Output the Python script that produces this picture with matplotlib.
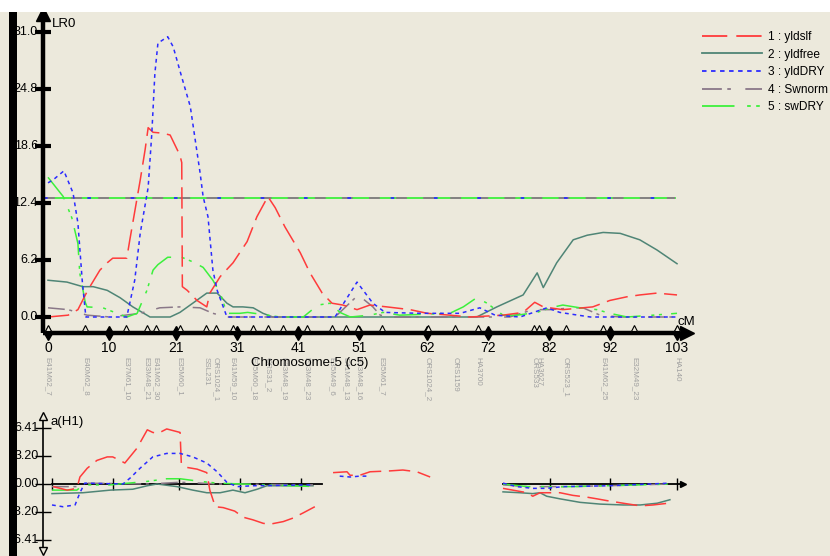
import numpy as np
import matplotlib
matplotlib.use("Agg")
import matplotlib.pyplot as plt
from matplotlib.patches import Rectangle
from matplotlib.lines import Line2D

plt.rcParams['font.family'] = ['Liberation Sans', 'DejaVu Sans']

nan = np.nan

# ---- LR profile (upper panel) ----
yldslf_cm = [0, 3.3, 4.9, 6.5, 8.5, 9.7, 10.6, 12.9, 13.4, 15.1, 15.9, 16.4, 17.2, 18.8, 20.0, 21.6, 21.9, 22.0,
             22.8, 24.4, 26.0, 26.5, 28.2, 30.3, 32.6, 34.2, 36.0, 37.2, 38.8, 41.3, 42.9, 44.9, 46.5, 48.3, 50.6,
             52.7, 55.5, 59.3, 62.1, 65.8, 69.1, 74.5, 77.8, 79.7, 81.1, 84.3, 89.2, 92.0, 94.8, 96.9, 99.7, 103]
yldslf_lr = [0.0, 0.2, 0.8, 2.9, 5.1, 5.9, 6.4, 6.4, 8.4, 14.9, 18.2, 20.6, 20.1, 20.0, 19.8, 17.6, 16.8, 3.3,
             2.9, 1.8, 1.1, 2.6, 4.4, 5.9, 8.2, 10.9, 13.1, 11.9, 9.8, 7.0, 4.8, 2.6, 1.5, 1.3, 0.8,
             1.3, 1.1, 0.8, 0.4, 0.2, 0.0, 0.2, 0.5, 1.6, 1.1, 0.8, 1.1, 1.8, 2.2, 2.4, 2.6, 2.4]

yldfree_cm = [0, 3.1, 5.7, 7.4, 9.7, 11.8, 13.9, 16.2, 16.7, 20.0, 21.6, 23.7, 26.0, 27.7, 29.3, 30.3, 31.9, 33.6,
              35.2, 36.8, 70.2, 73.5, 77.8, 80.1, 81.1, 83.3, 86.0, 88.3, 90.9, 93.7, 96.9, 99.7, 103]
yldfree_lr = [4.0, 3.8, 3.3, 3.3, 2.9, 2.1, 1.1, 0.2, 0.0, 0.0, 0.5, 1.5, 2.6, 2.6, 1.5, 1.1, 1.1, 1.0,
              0.4, 0.0, 0.0, 1.1, 2.4, 4.8, 3.2, 5.9, 8.4, 8.9, 9.2, 9.1, 8.4, 7.3, 5.8]

yldDRY_cm = [0, 0.8, 2.6, 4.1, 4.9, 5.6, 6.2, 12.9, 14.2, 15.1, 16.4, 17.0, 17.5, 18.0, 19.6, 20.5, 21.9, 23.3,
             24.1, 24.9, 25.4, 26.2, 27.0, 27.7, 28.7, 29.3, 47.0, 50.6, 53.2, 55.2, 60.9, 67.5, 70.7, 73.2,
             77.3, 81.7, 83.8, 88.8, 103]
yldDRY_lr = [14.6, 14.9, 15.9, 13.5, 10.2, 4.0, 0.0, 0.0, 4.0, 9.1, 14.1, 20.0, 26.5, 29.8, 30.5, 29.4, 26.1, 22.9,
             19.3, 15.7, 13.1, 10.9, 5.1, 2.9, 1.1, 0.0, 0.0, 3.8, 1.5, 0.5, 0.4, 0.4, 1.0, 0.2,
             0.0, 1.0, 0.5, 0.0, 0.0]

swnorm_cm = [0, 3.3, 6.4, 10.2, 15.1, 18.3, 21.6, 24.9, 27.0, 29.3, 47.0, 50.8, 53.2, 54.4, 56.0, 75.6, 79.4,
             82.2, 86.0, 87.6, 90.4, 93.7, 103]
swnorm_lr = [1.0, 0.8, 0.2, 0.0, 0.4, 1.0, 1.1, 1.0, 0.4, 0.0, 0.0, 2.4, 1.1, 0.2, 0.0, 0.0, 0.8,
             0.8, 1.0, 1.0, 0.2, 0.0, 0.0]

swDRY_cm = [0, 2.5, 3.9, 4.9, 5.2, 6.1, 6.4, 9.0, 11.3, 12.9, 14.6, 16.2, 17.2, 18.0, 19.6, 21.9, 23.7, 25.4,
            27.0, 28.2, 29.3, 31.4, 32.7, 35.9, 38.0, 41.8, 44.2, 46.2, 47.8, 49.5, 52.7, 54.9, 57.6, 65.8,
            68.0, 70.2, 71.9, 74.5, 76.8, 80.1, 82.2, 84.3, 87.1, 89.9, 92.0, 94.8, 99.1, 103]
swDRY_lr = [15.2, 13.1, 10.8, 8.0, 4.8, 1.6, 1.1, 1.0, 0.4, 0.0, 0.4, 2.9, 5.1, 5.7, 6.5, 6.5, 6.0, 5.4,
            4.0, 2.6, 0.4, 0.4, 0.5, 0.2, 0.0, 0.0, 1.3, 1.5, 0.5, 0.0, 0.2, 0.5, 0.2, 0.4,
            1.1, 2.1, 1.5, 0.2, 0.2, 0.5, 1.0, 1.3, 1.0, 0.8, 0.4, 0.0, 0.2, 0.4]

threshold = 12.9

# ---- additive effect a(H1) (lower panel), nan = gap ----
a_yldslf_cm = [0.2, 2.5, 4.1, 4.6, 5.8, 7.4, 9.1, 10.0, 11.2, 12.0, 14.0, 15.7, 16.6, 17.5, 18.9, 21.1, 21.3, 22.2,
               23.9, 25.5, 26.0, 26.9, 28.2, 30.1, 31.5, 33.1, 34.8, 35.9, 38.1, 39.7, 41.4, 43.3, nan,
               46.3, 48.6, 49.1, 50.7, 52.4, 55.7, 57.8, 60.1, 62.3, nan,
               74.3, 75.9, 78.3, 79.2, 80.4, 83.7, 85.8, 88.1, 89.8, 91.4, 94.1, 96.9, 99.0, 101.5]
a_yldslf = [-0.3, -0.7, -0.5, 0.8, 1.8, 2.7, 3.1, 3.1, 2.7, 2.4, 4.1, 6.2, 5.9, 5.8, 6.3, 5.9, 2.4, 1.9,
            1.7, 1.3, -0.7, -2.6, -2.7, -3.1, -3.8, -4.1, -4.5, -4.6, -4.3, -3.9, -3.3, -2.6, nan,
            1.3, 1.4, 1.0, 1.0, 1.4, 1.5, 1.6, 1.4, 0.8, nan,
            -0.5, -0.7, -1.0, -1.4, -1.0, -1.0, -1.3, -1.5, -1.7, -1.9, -2.2, -2.5, -2.4, -2.2]

a_yldfree_cm = [0, 5.1, 9.6, 13.3, 15.7, 17.3, 20.6, 23.2, 25.5, 27.7, 29.8, 31.8, 33.8, 35.4, 43.0, nan,
                74.3, 77.1, 79.2, 80.4, 81.5, 83.7, 87.0, 90.3, 94.1, 96.9, 99.7, 101.8]
a_yldfree = [-1.1, -1.0, -0.7, -0.6, -0.2, 0.0, -0.3, -0.7, -1.0, -1.0, -0.7, -1.0, -0.6, -0.2, -0.2, nan,
             -0.9, -1.0, -1.1, -1.0, -1.4, -1.7, -2.1, -2.3, -2.4, -2.4, -2.2, -1.8]

a_yldDRY_cm = [0, 1.8, 3.8, 4.6, 5.4, 11.7, 12.9, 14.5, 16.6, 18.9, 21.1, 23.2, 25.5, 27.2, 28.8, 30.5, 33.1, 43.0,
               nan, 47.4, 49.1, 50.7, 52.4, nan, 74.3, 76.6, 79.2, 81.5, 84.2, 91.9, 101.8]
a_yldDRY = [-2.4, -2.6, -2.4, -1.0, 0.1, 0.0, 0.7, 1.8, 3.1, 3.5, 3.5, 3.1, 2.4, 1.4, 0.2, -0.3, -0.2, -0.1,
            nan, 0.9, 0.8, 0.9, 0.9, nan, 0.1, -0.3, -0.5, -0.5, -0.3, -0.2, 0.1]

a_swnorm_cm = [0, 4.1, 5.1, 16.1, 21.1, 27.7, 43.0, nan, 74.3, 78.3, 84.8, 91.4, 101.8]
a_swnorm = [-0.3, -0.3, 0.1, 0.0, 0.2, 0.0, -0.1, nan, -0.1, -0.3, -0.3, -0.2, 0.0]

a_swDRY_cm = [0, 4.1, 5.1, 9.6, 15.7, 18.9, 21.1, 24.4, 27.2, 35.4, 43.7, nan, 74.3, 78.3, 85.8, 91.4, 96.9, 101.8]
a_swDRY = [-0.7, -0.7, -0.1, -0.1, 0.3, 0.6, 0.6, 0.3, 0.1, -0.1, -0.3, nan, 0.0, -0.3, -0.3, -0.2, -0.1, 0.0]

# ---- chromosome ----
major_ticks = [0, 10, 21, 31, 41, 51, 62, 72, 82, 92, 103]
lower_ticks = [0, 10, 21, 31, 41, 82, 92, 103]
marker_pos = [0, 6.1, 12.8, 16.2, 17.7, 21.6, 25.9, 27.5, 30.3, 33.6, 36.0, 38.5, 42.4, 46.5, 48.8, 50.8,
              54.7, 62.2, 66.6, 70.4, 79.6, 80.4, 84.8, 90.9, 96.0, 103]
marker_names = ["E41M62_7", "E40M62_8", "E37M61_10", "E33M48_21", "E41M62_30", "E35M60_1", "SSL231",
                "ORS1024_1", "E41M59_10", "E35M60_18", "ORS31_2", "E33M48_19", "E33M48_23", "E35M49_6",
                "E41M48_13", "E33M48_16", "E35M61_7", "ORS1024_2", "ORS1159", "HA3700", "ORS533", "HA3627",
                "ORS523_1", "E41M62_25", "E32M49_23", "HA140"]
lr_ticks = [0.0, 6.2, 12.4, 18.6, 24.8, 31.0]
a_ticks = [6.41, 3.20, 0.00, -3.20, -6.41]
a_ticklabels = ["6.41", "3.20", "0.00", "-3.20", "-6.41"]

names = ["1 : yldslf", "2 : yldfree", "3 : yldDRY", "4 : Swnorm", "5 : swDRY"]
colors = ["#ff3b3b", "#4f8576", "#2b2bff", "#8a7888", "#3cf03c"]
dashes = [(14, 5), None, (2.5, 2.5), (11, 3, 2, 8), (18, 7, 2, 3, 2, 6)]

bg = "#ece9dc"
W, H = 830, 556
fig = plt.figure(figsize=(8.3, 5.56), dpi=100, facecolor=bg)

# upper axes spans pixel rows 0..400, lower 400..556
ax = fig.add_axes([0, 156 / H, 1, 400 / H])
axl = fig.add_axes([0, 0, 1, 156 / H])
for a in (ax, axl):
    a.set_facecolor("none")
    a.set_axis_off()

# pixel -> data scale (upper): cM = (x-48)/6.107, LR = (317-y)/9.19
ax.set_xlim((0 - 48) / 6.107, (830 - 48) / 6.107)
ax.set_ylim((317 - 400) / 9.19, (317 - 0) / 9.19)
# lower: cM = (x-52)/6.07, a = (484-y)/8.74
axl.set_xlim((0 - 52) / 6.07, (830 - 52) / 6.07)
axl.set_ylim((484 - 556) / 8.74, (484 - 400) / 8.74)


def style(line, i):
    if dashes[i] is not None:
        line.set_dashes(dashes[i])


# threshold line (all traits overlap)
ax.plot([-0.6, 102.7], [threshold, threshold], color=colors[4], lw=1.3, zorder=2)
ax.plot([-0.6, 102.7], [threshold, threshold], color=colors[3], lw=1.3, dashes=(6, 9), zorder=2)
ax.plot([-0.6, 102.7], [threshold, threshold], color=colors[2], lw=1.3, dashes=(2, 22), zorder=2)

upper = [(yldslf_cm, yldslf_lr), (yldfree_cm, yldfree_lr), (yldDRY_cm, yldDRY_lr),
         (swnorm_cm, swnorm_lr), (swDRY_cm, swDRY_lr)]
order = [1, 3, 4, 0, 2]
for i in order:
    xs, ys = upper[i]
    ln, = ax.plot(xs, ys, color=colors[i], lw=1.1, zorder=3)
    style(ln, i)

# upper axes
ybase = -1.74
ax.plot([-0.8, 104.5], [ybase, ybase], color="black", lw=3.2, solid_capstyle="butt", zorder=4)
ax.plot([104.6], [ybase], marker=">", color="black", ms=10, zorder=4)
ax.plot([-0.8, -0.8], [ybase, 32.6], color="black", lw=3.2, solid_capstyle="butt", zorder=4)
ax.plot([-0.8], [33.0], marker="^", color="black", ms=10, zorder=4)
ax.plot(major_ticks, [ybase] * len(major_ticks), ls="none", marker="d", color="black", ms=7, zorder=5)
ax.plot([-0.8] * len(lr_ticks), lr_ticks, ls="none", marker="_", color="black", ms=11, mew=3, zorder=5)
ax.plot(marker_pos, [ybase + 0.55] * len(marker_pos), ls="none", marker="^", mfc=bg, mec="black",
        ms=5, mew=0.8, zorder=5)
for v in lr_ticks:
    ax.text(-1.65, v, f"{v:.1f}", ha="right", va="center", fontsize=9)
for v in major_ticks:
    ax.text(v, -3.4, str(v), ha="center", va="center", fontsize=10)
for p, n in zip(marker_pos, marker_names):
    ax.text(p, -4.4, n, ha="center", va="top", rotation=-90, fontsize=5.8, color="#a0a0a0")
ax.text(0.6, 31.9, "LR0", ha="left", va="center", fontsize=9.5)
ax.text(104.5, -0.5, "cM", ha="center", va="center", fontsize=9.5)
ax.text(42.9, -5.05, "Chromosome-5 (c5)", ha="center", va="center", fontsize=9.5)

# legend
handles = []
for i in range(5):
    h = Line2D([], [], color=colors[i], lw=1.3)
    style(h, i)
    handles.append(h)
ax.legend(handles, names, loc="upper left", bbox_to_anchor=(696 / W, 1 - 25 / 400), frameon=False,
          fontsize=8.6, handlelength=5.0, handletextpad=0.5, labelspacing=0.47, borderpad=0)

# lower panel
lower = [(a_yldslf_cm, a_yldslf), (a_yldfree_cm, a_yldfree), (a_yldDRY_cm, a_yldDRY),
         (a_swnorm_cm, a_swnorm), (a_swDRY_cm, a_swDRY)]
axl.plot([0, 44.5], [0, 0], color="black", lw=1.3, zorder=2)
axl.plot([74.3, 104.0], [0, 0], color="black", lw=1.3, zorder=2)
axl.plot([104.0], [0], marker=">", color="black", ms=5, zorder=2)
axl.plot(lower_ticks, [0] * len(lower_ticks), ls="none", marker="|", color="black", ms=8, mew=1, zorder=2)
for i in order:
    xs, ys = lower[i]
    ln, = axl.plot(xs, ys, color=colors[i], lw=1.1, zorder=3)
    style(ln, i)

axl.plot([-1.48, -1.48], [-7.6, 7.7], color="black", lw=1.2, zorder=4)
axl.plot([-1.48], [7.8], marker="^", mfc=bg, mec="black", ms=6, mew=1, zorder=4)
axl.plot([-1.48], [-7.7], marker="v", mfc=bg, mec="black", ms=6, mew=1, zorder=4)
axl.plot([-1.48] * len(a_ticks), a_ticks, ls="none", marker="_", color="black", ms=11, mew=1, zorder=4)
for v, t in zip(a_ticks, a_ticklabels):
    axl.text(-2.2, v, t, ha="right", va="center", fontsize=9)
axl.text(-0.3, 7.1, "a(H1)", ha="left", va="center", fontsize=9.5)

# window decorations
fig.patches.append(Rectangle((0, 1 - 12 / H), 1, 12 / H, transform=fig.transFigure,
                             facecolor="white", edgecolor="none", zorder=10))
fig.patches.append(Rectangle((9 / W, 0), 8 / W, 1 - 12 / H, transform=fig.transFigure,
                             facecolor="black", edgecolor="none", zorder=10))

fig.savefig("out.png", dpi=100, facecolor=bg)
